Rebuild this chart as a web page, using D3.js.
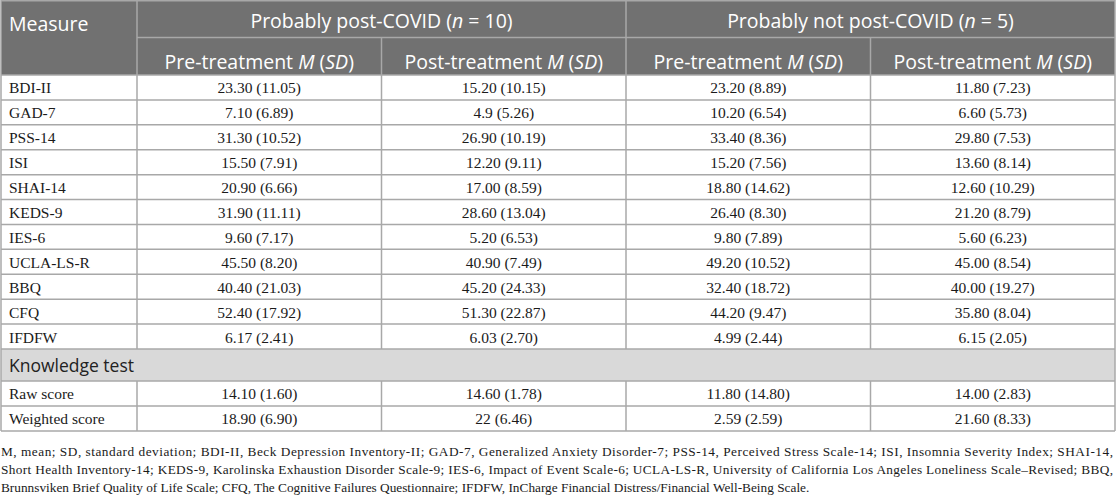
<!DOCTYPE html>
<html lang="en">
<head>
<meta charset="UTF-8">
<script src="https://cdnjs.cloudflare.com/ajax/libs/d3/7.8.5/d3.min.js"></script>
<title>Measures pre/post treatment</title>
<style>
  body { margin: 0; background: #fff; }
  svg { display: block; }
</style>
</head>
<body>
<script>
// table data
var measures = ['BDI-II', 'GAD-7', 'PSS-14', 'ISI', 'SHAI-14', 'KEDS-9', 'IES-6', 'UCLA-LS-R', 'BBQ', 'CFQ', 'IFDFW'];
var knowledgeRows = ['Raw score', 'Weighted score'];
var sectionLabel = 'Knowledge test';

var postPre  = ['23.30 (11.05)', '7.10 (6.89)', '31.30 (10.52)', '15.50 (7.91)', '20.90 (6.66)', '31.90 (11.11)', '9.60 (7.17)', '45.50 (8.20)', '40.40 (21.03)', '52.40 (17.92)', '6.17 (2.41)', '14.10 (1.60)', '18.90 (6.90)'];
var postPost = ['15.20 (10.15)', '4.9 (5.26)', '26.90 (10.19)', '12.20 (9.11)', '17.00 (8.59)', '28.60 (13.04)', '5.20 (6.53)', '40.90 (7.49)', '45.20 (24.33)', '51.30 (22.87)', '6.03 (2.70)', '14.60 (1.78)', '22 (6.46)'];
var notPre   = ['23.20 (8.89)', '10.20 (6.54)', '33.40 (8.36)', '15.20 (7.56)', '18.80 (14.62)', '26.40 (8.30)', '9.80 (7.89)', '49.20 (10.52)', '32.40 (18.72)', '44.20 (9.47)', '4.99 (2.44)', '11.80 (14.80)', '2.59 (2.59)'];
var notPost  = ['11.80 (7.23)', '6.60 (5.73)', '29.80 (7.53)', '13.60 (8.14)', '12.60 (10.29)', '21.20 (8.79)', '5.60 (6.23)', '45.00 (8.54)', '40.00 (19.27)', '35.80 (8.04)', '6.15 (2.05)', '14.00 (2.83)', '21.60 (8.33)'];

var groups = [
  { parts: [['Probably post-COVID (', false], ['n', true], [' = 10)', false]], cols: ['c1', 'c2'] },
  { parts: [['Probably not post-COVID (', false], ['n', true], [' = 5)', false]], cols: ['c3', 'c4'] }
];
var subHeads = ['Pre-treatment', 'Post-treatment', 'Pre-treatment', 'Post-treatment'];

var footnote = [
  'M, mean; SD, standard deviation; BDI-II, Beck Depression Inventory-II; GAD-7, Generalized Anxiety Disorder-7; PSS-14, Perceived Stress Scale-14; ISI, Insomnia Severity Index; SHAI-14,',
  'Short Health Inventory-14; KEDS-9, Karolinska Exhaustion Disorder Scale-9; IES-6, Impact of Event Scale-6; UCLA-LS-R, University of California Los Angeles Loneliness Scale\u2013Revised; BBQ,',
  'Brunnsviken Brief Quality of Life Scale; CFQ, The Cognitive Failures Questionnaire; IFDFW, InCharge Financial Distress/Financial Well-Being Scale.'
];

var width = 1116, height = 500;
var sans = '"Open Sans", "Noto Sans", sans-serif';
var serif = '"Liberation Serif", "DejaVu Serif", serif';
var headFill = '#717171', lineCol = '#a8a8a8', bandFill = '#d9d9d9';

var svg = d3.select('body').append('svg')
  .attr('width', width)
  .attr('height', height);

// columns: first column fixed, the four value columns share the rest
var colKeys = ['c1', 'c2', 'c3', 'c4'];
var x = d3.scaleBand().domain(colKeys).range([137, 1115]);
var firstLeft = 1;

// rows: header, measures, knowledge band, knowledge rows
var headY = d3.scaleBand().domain(['h1', 'h2']).range([0, 75]);
var yM = d3.scaleBand().domain(measures).range([75, 349]);
var yBand = d3.scaleBand().domain([sectionLabel]).range([349, 381]);
var yK = d3.scaleBand().domain(knowledgeRows).range([381, 431]);
function rowY(r) { return measures.indexOf(r) >= 0 ? yM(r) : yK(r); }
var rowH = yM.bandwidth();
var bottom = yK.range()[1];

var valueCols = [postPre, postPost, notPre, notPost];
var dataRows = measures.concat(knowledgeRows);
var cells = [];
dataRows.forEach(function (r, i) {
  valueCols.forEach(function (col, j) {
    cells.push({ row: r, col: colKeys[j], text: col[i] });
  });
});

// header background
svg.append('rect')
  .attr('x', firstLeft).attr('y', 0)
  .attr('width', x.range()[1] - firstLeft).attr('height', headY.range()[1])
  .attr('fill', headFill);

// knowledge band
svg.append('rect')
  .attr('x', firstLeft).attr('y', yBand(sectionLabel))
  .attr('width', x.range()[1] - firstLeft).attr('height', yBand.bandwidth())
  .attr('fill', bandFill);

// grid lines
var g = svg.append('g').attr('stroke', lineCol).attr('stroke-width', 1.5).attr('fill', 'none');
var hLines = [{ y: headY('h2'), x1: x('c1') }, { y: headY.range()[1], x1: firstLeft }]
  .concat(measures.map(function (r) { return { y: yM(r) + yM.bandwidth(), x1: firstLeft }; }))
  .concat([{ y: yBand.range()[1], x1: firstLeft }])
  .concat(knowledgeRows.map(function (r) { return { y: yK(r) + yK.bandwidth(), x1: firstLeft }; }));
g.selectAll('.h').data(hLines).enter().append('line')
  .attr('x1', function (d) { return d.x1; })
  .attr('x2', x.range()[1])
  .attr('y1', function (d) { return d.y; })
  .attr('y2', function (d) { return d.y; });
g.append('line').attr('x1', firstLeft).attr('x2', x.range()[1]).attr('y1', 0.75).attr('y2', 0.75);
g.selectAll('.ov').data([firstLeft, x.range()[1]]).enter().append('line')
  .attr('x1', function (d) { return d; }).attr('x2', function (d) { return d; })
  .attr('y1', 0).attr('y2', bottom);
// inner verticals, broken at the knowledge band
var vSegs = [];
colKeys.forEach(function (c) {
  var full = (c === 'c1' || c === 'c3');
  vSegs.push({ x: x(c), y1: full ? 0 : headY('h2'), y2: yBand.range()[0] });
  vSegs.push({ x: x(c), y1: yBand.range()[1], y2: bottom });
});
g.selectAll('.iv').data(vSegs).enter().append('line')
  .attr('x1', function (d) { return d.x; }).attr('x2', function (d) { return d.x; })
  .attr('y1', function (d) { return d.y1; }).attr('y2', function (d) { return d.y2; });

// header text
var headSize = 19.5;
svg.append('text')
  .attr('x', 9).attr('y', 31)
  .attr('font-family', sans).attr('font-size', headSize).attr('fill', '#fff')
  .text('Measure');

groups.forEach(function (gr) {
  var cx = (x(gr.cols[0]) + x(gr.cols[1]) + x.bandwidth()) / 2;
  var t = svg.append('text')
    .attr('x', cx).attr('y', headY('h1') + 28)
    .attr('text-anchor', 'middle')
    .attr('font-family', sans).attr('font-size', headSize).attr('fill', '#fff');
  gr.parts.forEach(function (p) {
    t.append('tspan').attr('font-style', p[1] ? 'italic' : null).text(p[0]);
  });
});

subHeads.forEach(function (s, j) {
  var t = svg.append('text')
    .attr('x', x(colKeys[j]) + x.bandwidth() / 2).attr('y', headY('h2') + 31)
    .attr('text-anchor', 'middle')
    .attr('font-family', sans).attr('font-size', headSize).attr('fill', '#fff');
  t.append('tspan').text(s + ' ');
  t.append('tspan').attr('font-style', 'italic').text('M');
  t.append('tspan').text(' (');
  t.append('tspan').attr('font-style', 'italic').text('SD');
  t.append('tspan').text(')');
});

// row labels
svg.selectAll('.lbl').data(dataRows).enter().append('text')
  .attr('x', 9)
  .attr('y', function (r) { return rowY(r) + rowH / 2 + 6; })
  .attr('font-family', serif).attr('font-size', 15.5).attr('fill', '#1a1a1a')
  .text(function (r) { return r; });

svg.append('text')
  .attr('x', 9).attr('y', yBand(sectionLabel) + yBand.bandwidth() / 2 + 6.5)
  .attr('font-family', sans).attr('font-size', 17.5).attr('fill', '#222')
  .text(sectionLabel);

// value cells
svg.selectAll('.cell').data(cells).enter().append('text')
  .attr('x', function (d) { return x(d.col) + x.bandwidth() / 2; })
  .attr('y', function (d) { return rowY(d.row) + rowH / 2 + 6; })
  .attr('text-anchor', 'middle')
  .attr('font-family', serif).attr('font-size', 15.5).attr('fill', '#1a1a1a')
  .text(function (d) { return d.text; });

// footnote
svg.selectAll('.fn').data(footnote).enter().append('text')
  .attr('x', 1)
  .attr('y', function (d, i) { return 456 + i * 18; })
  .attr('font-family', serif).attr('font-size', 13.3).attr('fill', '#1a1a1a')
  .attr('textLength', function (d, i) { return i < 2 ? 1112 : null; })
  .attr('lengthAdjust', 'spacing')
  .text(function (d) { return d; });
</script>
</body>
</html>
